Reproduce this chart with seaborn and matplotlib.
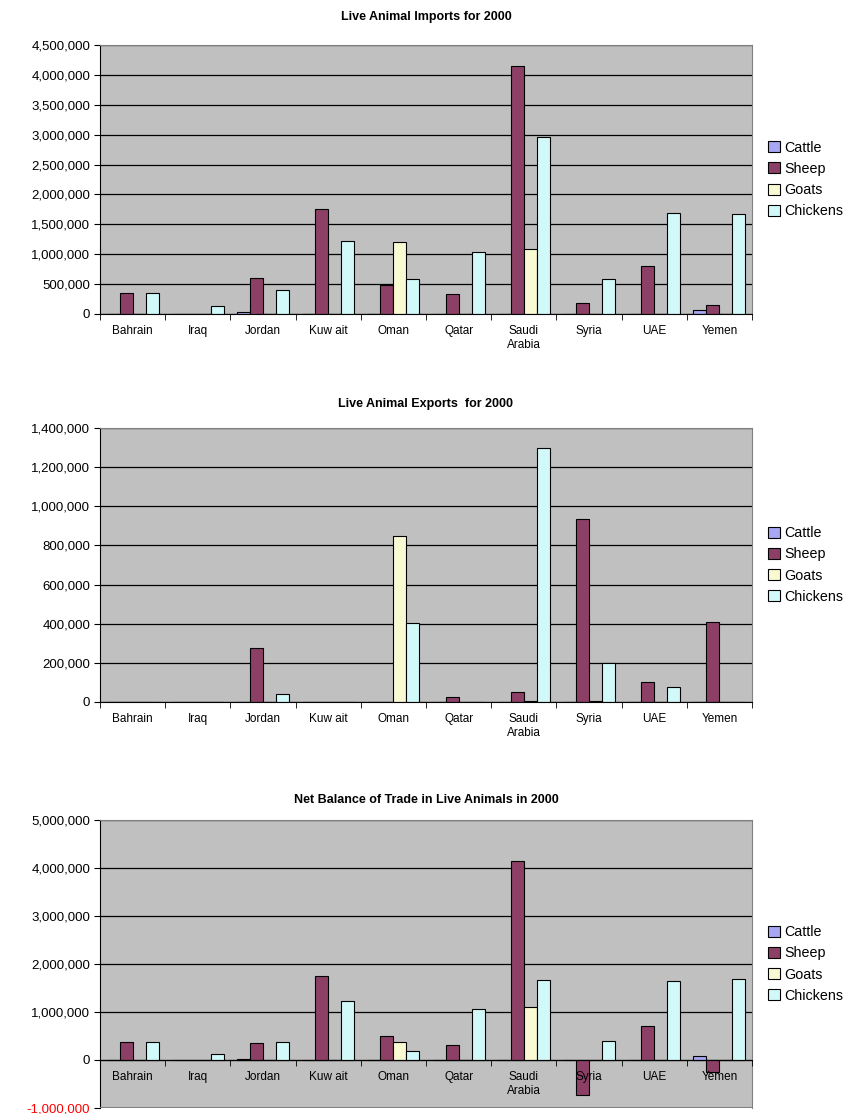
import matplotlib
matplotlib.use("Agg")
import matplotlib.pyplot as plt
import matplotlib.ticker as mticker
import seaborn as sns
import pandas as pd

countries = ['Bahrain', 'Iraq', 'Jordan', 'Kuw ait', 'Oman', 'Qatar',
             'Saudi\nArabia', 'Syria', 'UAE', 'Yemen']
animals = ['Cattle', 'Sheep', 'Goats', 'Chickens']

# Imports 2000
imp_cattle = [0, 0, 40000, 0, 0, 0, 0, 0, 0, 72000]
imp_sheep = [352000, 0, 604000, 1760000, 487000, 335000, 4155000, 190000, 805000, 156000]
imp_goats = [0, 0, 0, 0, 1210000, 0, 1084000, 0, 0, 0]
imp_chickens = [352000, 134000, 408000, 1225000, 587000, 1040000, 2958000, 587000, 1695000, 1671000]

# Exports 2000
exp_cattle = [0, 0, 0, 0, 0, 0, 0, 0, 0, 0]
exp_sheep = [0, 0, 275000, 0, 0, 24000, 53000, 936000, 102000, 407000]
exp_goats = [0, 0, 0, 0, 850000, 0, 3000, 5000, 0, 0]
exp_chickens = [0, 0, 39000, 0, 402000, 0, 1297000, 199000, 77000, 0]

# Net balance 2000
net_cattle = [0, 0, 28000, 0, 0, 0, 0, 0, 0, 77000]
net_sheep = [368000, 0, 348000, 1760000, 494000, 312000, 4140000, -736000, 708000, -250000]
net_goats = [0, 0, 0, 0, 368000, 0, 1097000, 0, 0, 0]
net_chickens = [368000, 118000, 368000, 1225000, 194000, 1056000, 1660000, 390000, 1640000, 1680000]

colors = ['#9999FF', '#993366', '#FFFFCC', '#CCFFFF']


def long_table(cattle, sheep, goats, chickens):
    rows = []
    for a, vals in zip(animals, [cattle, sheep, goats, chickens]):
        for c, v in zip(countries, vals):
            rows.append({'country': c, 'animal': a, 'value': v})
    return pd.DataFrame(rows)


def draw_chart(fig, rect, df, title, ymin, ymax, step, title_y, zero_axis=False):
    ax = fig.add_axes(rect)
    sns.barplot(data=df, x='country', y='value', hue='animal', order=countries,
                hue_order=animals, palette=colors, edgecolor='black',
                linewidth=0.8, width=0.8, ax=ax, errorbar=None)
    ax.set_facecolor('#C0C0C0')
    ax.set_ylim(ymin, ymax)
    ax.set_xlim(-0.5, len(countries) - 0.5)
    ax.yaxis.set_major_locator(mticker.MultipleLocator(step))
    ax.yaxis.set_major_formatter(mticker.FuncFormatter(lambda v, p: f'{int(v):,}'))
    ax.grid(axis='y', color='black', linewidth=0.9)
    ax.grid(axis='x', visible=False)
    ax.set_axisbelow(True)
    ax.set_xlabel('')
    ax.set_ylabel('')
    ax.tick_params(axis='y', labelsize=9.5, length=4, color='black', pad=3)
    ax.tick_params(axis='x', which='major', length=0, labelsize=8.5, pad=8)
    ax.set_xticks([i + 0.5 for i in range(-1, len(countries))], minor=True)
    ax.tick_params(axis='x', which='minor', length=4, color='black')
    for s in ['top', 'right']:
        ax.spines[s].set_color('#808080')
    ax.spines['left'].set_color('black')
    ax.spines['bottom'].set_color('black')
    if zero_axis:
        ax.spines['bottom'].set_position(('data', 0))
        ax.axhline(ymin, color='#808080', linewidth=1.5, zorder=5)
        ax.xaxis.set_zorder(3)
    ax.legend(loc='center left', bbox_to_anchor=(1.005, 0.5), frameon=False,
              fontsize=10.3, handlelength=0.8, handleheight=0.8, handletextpad=0.3,
              labelspacing=0.5, borderaxespad=0.5)
    for h in ax.get_legend().legend_handles:
        h.set_edgecolor('black')
        h.set_linewidth(0.8)
    fig.text(0.4988, 1 - title_y / 1114, title, ha='center', va='center',
             fontsize=9, fontweight='bold')
    return ax


plt.rcParams['font.family'] = ['Liberation Sans', 'DejaVu Sans']
fig = plt.figure(figsize=(8.54, 11.14), dpi=100)

df_imp = long_table(imp_cattle, imp_sheep, imp_goats, imp_chickens)
df_exp = long_table(exp_cattle, exp_sheep, exp_goats, exp_chickens)
df_net = long_table(net_cattle, net_sheep, net_goats, net_chickens)

draw_chart(fig, [100 / 854, 1 - 314 / 1114, 652 / 854, 269 / 1114], df_imp,
           'Live Animal Imports for 2000', 0, 4500000, 500000, 17)
draw_chart(fig, [100 / 854, 1 - 702 / 1114, 652 / 854, 274 / 1114], df_exp,
           'Live Animal Exports  for 2000', 0, 1400000, 200000, 404)
ax3 = draw_chart(fig, [100 / 854, 1 - 1108 / 1114, 652 / 854, 288 / 1114], df_net,
                 'Net Balance of Trade in Live Animals in 2000', -1000000, 5000000,
                 1000000, 800, zero_axis=True)
fig.canvas.draw()
for lab in ax3.get_yticklabels():
    if lab.get_text().startswith('-') or lab.get_text().startswith('\u2212'):
        lab.set_color('red')

fig.savefig('out.png', dpi=100)
